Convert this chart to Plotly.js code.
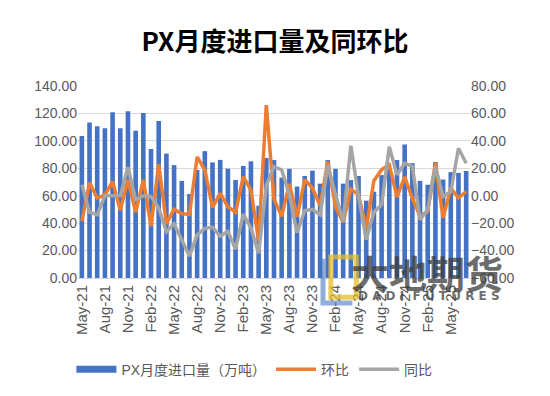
<!DOCTYPE html>
<html>
<head>
<meta charset="utf-8">
<script src="https://cdn.plot.ly/plotly-3.0.1.min.js"></script>
<style>
html,body{margin:0;padding:0;background:#fff;}
#chart{width:550px;height:396px;}
</style>
</head>
<body>
<div id="chart"></div>
<script>
const months = ["May-21","Jun-21","Jul-21","Aug-21","Sep-21","Oct-21","Nov-21","Dec-21",
"Jan-22","Feb-22","Mar-22","Apr-22","May-22","Jun-22","Jul-22","Aug-22","Sep-22","Oct-22","Nov-22","Dec-22",
"Jan-23","Feb-23","Mar-23","Apr-23","May-23","Jun-23","Jul-23","Aug-23","Sep-23","Oct-23","Nov-23","Dec-23",
"Jan-24","Feb-24","Mar-24","Apr-24","May-24","Jun-24","Jul-24","Aug-24","Sep-24","Oct-24","Nov-24","Dec-24",
"Jan-25","Feb-25","Mar-25","Apr-25","May-25","Jun-25","Jul-25"];

const imports = [103.5,113.3,110.7,109.2,120.8,109.2,121.6,107.4,
120.3,94.0,114.5,90.7,82.3,70.8,61.2,78.8,92.5,84.3,86.1,79.7,
71.5,81.7,85.1,52.7,87.5,86.0,73.2,79.6,66.7,74.4,78.3,68.8,
86.0,79.6,68.8,71.4,74.4,56.4,62.9,75.0,79.7,86.0,97.3,83.7,
70.8,68.0,84.6,71.8,77.2,76.6,78.0];

const mom = [-18.6,9.6,-1.7,0.5,10.4,-10.6,11.6,-12.1,
11.6,-22.2,23.0,-20.5,-9.9,-13.2,-13.6,28.3,18.8,-8.5,1.7,-8.0,
-12.0,14.0,4.1,-33.0,66.0,-2.5,-15.0,8.7,-15.5,11.6,5.6,-7.2,
24.9,-8.2,-19.3,4.8,0.7,-24.0,11.0,19.0,22.5,-1.0,13.8,-2.0,
-15.0,-11.4,24.0,-16.2,5.6,-1.7,3.1];

const yoy = [8.0,-12.1,-13.8,0.0,0.0,0.0,20.8,-2.9,
0.0,-0.5,-8.9,-26.3,-20.5,-33.0,-44.0,-28.5,-23.8,-23.0,-29.5,-26.0,
-39.0,-13.5,-23.5,-42.0,7.5,21.3,18.8,0.5,-27.0,-10.8,-10.0,-14.0,
22.0,1.0,-18.6,36.5,-0.5,-32.0,-12.0,-6.5,35.7,15.2,23.7,21.3,
-17.4,-10.1,21.3,-0.5,3.1,34.6,23.7];

const seriesNames = ["PX月度进口量（万吨）","环比","同比"];
const titleText = "PX月度进口量及同环比";
const leftTicks = [0,20,40,60,80,100,120,140];
const rightTicks = [-60,-40,-20,0,20,40,60,80];

const tickMonths = months.filter((m,i)=> i % 3 === 0);

const BLUE = "#4472C4", ORANGE = "#ED7D31", GRAY = "#A5A5A5";
const FONT = "Liberation Sans, Arial, Noto Sans CJK SC, sans-serif";

const traces = [
  {type:"bar", x:months, y:imports, marker:{color:BLUE}, showlegend:false, name:seriesNames[0], yaxis:"y"},
  {type:"scatter", mode:"lines", x:[months[0]], y:[null], line:{color:BLUE, width:7}, name:seriesNames[0], yaxis:"y", hoverinfo:"skip"},
  {type:"scatter", mode:"lines", x:months, y:mom, line:{color:ORANGE, width:3.5}, name:seriesNames[1], yaxis:"y2"},
  {type:"scatter", mode:"lines", x:months, y:yoy, line:{color:GRAY, width:3.5}, name:seriesNames[2], yaxis:"y2"}
];

const layout = {
  width:550, height:396,
  margin:{l:78, r:80, t:86, b:117},
  paper_bgcolor:"#fff", plot_bgcolor:"#fff",
  font:{family:FONT, color:"#595959", size:14},
  title:{text:"<b>"+titleText+"</b>", x:0.5, xanchor:"center", y:0.893, yanchor:"middle",
         font:{family:"Noto Sans CJK SC, sans-serif", size:26, color:"#000"}},
  bargap:0.4,
  xaxis:{type:"category", categoryorder:"array", categoryarray:months,
         tickmode:"array", tickvals:tickMonths, ticktext:tickMonths,
         tickangle:-90, ticks:"", showgrid:false, showline:true, linecolor:"#D9D9D9", linewidth:1,
         tickfont:{size:15, color:"#595959"}, range:[-0.5, months.length-0.5]},
  yaxis:{range:[0,140], tickmode:"array", tickvals:leftTicks, tickformat:".2f",
         showgrid:true, gridcolor:"#D9D9D9", gridwidth:1, zeroline:false, showline:false,
         ticks:"", tickfont:{size:14, color:"#595959"}},
  yaxis2:{overlaying:"y", side:"right", range:[-60,80], tickmode:"array", tickvals:rightTicks,
          tickformat:".2f", ticksuffix:"%", showgrid:false, zeroline:false, showline:false,
          ticks:"", tickfont:{size:14, color:"#595959"}},
  legend:{orientation:"h", x:0.45, xanchor:"center", y:-0.47, yanchor:"middle",
          font:{size:14, color:"#595959"}, itemwidth:40, traceorder:"normal"},
  annotations:[
    {xref:"paper", yref:"paper", x:0.89, y:0.035, xanchor:"center", yanchor:"middle", showarrow:false,
     text:"<b>大地期货</b>", font:{family:"Noto Sans CJK SC, sans-serif", size:38, color:"rgba(60,60,60,0.75)"}},
    {xref:"paper", yref:"paper", x:0.895, y:-0.092, xanchor:"center", yanchor:"middle", showarrow:false,
     text:"<b>D A D I  F U T U R E S</b>", font:{family:"DejaVu Sans, sans-serif", size:12, color:"rgba(70,70,70,0.8)"}}
  ],
  shapes:[
    {type:"rect", xref:"paper", yref:"paper", x0:0.645, x1:0.71, y0:-0.1, y1:0.11,
     line:{color:"rgba(230,190,40,0.75)", width:5}, fillcolor:"rgba(0,0,0,0)"},
    {type:"path", xref:"paper", yref:"paper", path:"M 0.625 0.1 L 0.625 -0.13 L 0.7 -0.13",
     line:{color:"rgba(70,120,190,0.6)", width:5}}
  ]
};

Plotly.newPlot("chart", traces, layout, {displayModeBar:false, staticPlot:true});
</script>
</body>
</html>
